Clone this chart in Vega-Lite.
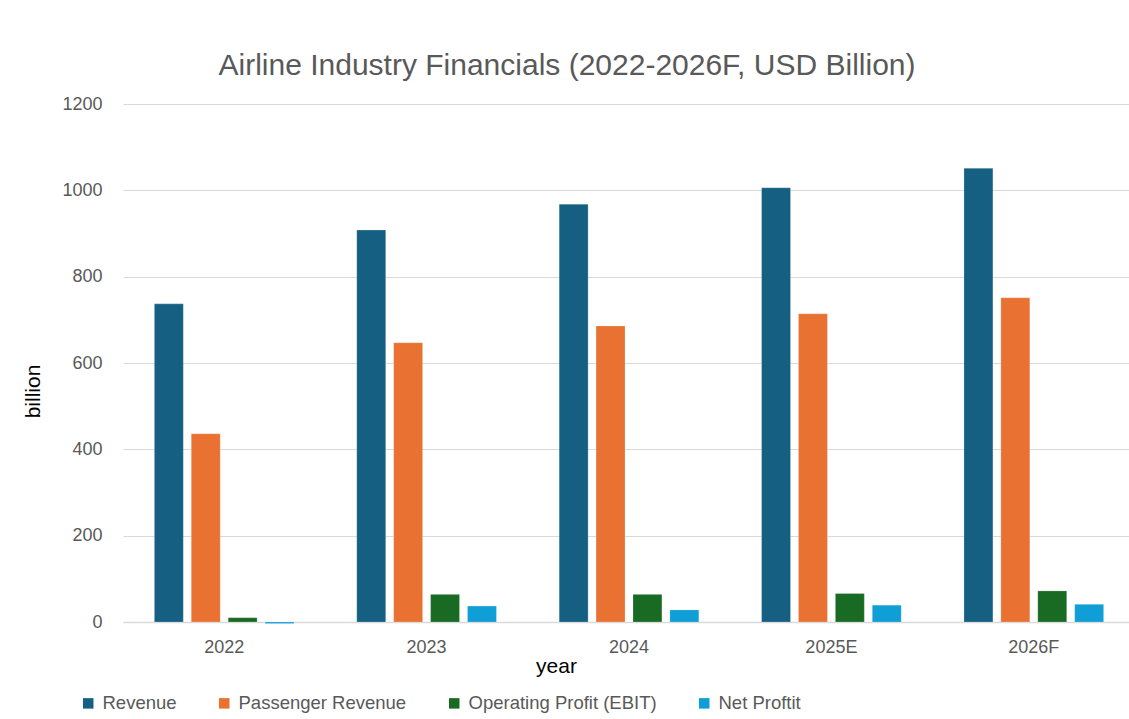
{
  "$schema": "https://vega.github.io/schema/vega-lite/v6.json",
  "autosize": "none",
  "width": 1006,
  "height": 518,
  "padding": {"left": 123, "top": 104, "right": 0, "bottom": 97},
  "background": "white",
  "title": {
    "text": "Airline Industry Financials (2022-2026F, USD Billion)",
    "font": "Liberation Sans",
    "fontSize": 30,
    "fontWeight": "normal",
    "color": "#595959",
    "anchor": "middle",
    "frame": "group",
    "dx": -59,
    "offset": 14
  },
  "data": {
    "values": [
      {"year": "2022", "series": "Revenue", "value": 737},
      {"year": "2022", "series": "Passenger Revenue", "value": 436},
      {"year": "2022", "series": "Operating Profit (EBIT)", "value": 10},
      {"year": "2022", "series": "Net Proftit", "value": -3.6},
      {"year": "2023", "series": "Revenue", "value": 908},
      {"year": "2023", "series": "Passenger Revenue", "value": 647},
      {"year": "2023", "series": "Operating Profit (EBIT)", "value": 64},
      {"year": "2023", "series": "Net Proftit", "value": 37},
      {"year": "2024", "series": "Revenue", "value": 968},
      {"year": "2024", "series": "Passenger Revenue", "value": 686},
      {"year": "2024", "series": "Operating Profit (EBIT)", "value": 64},
      {"year": "2024", "series": "Net Proftit", "value": 28},
      {"year": "2025E", "series": "Revenue", "value": 1006},
      {"year": "2025E", "series": "Passenger Revenue", "value": 714},
      {"year": "2025E", "series": "Operating Profit (EBIT)", "value": 66},
      {"year": "2025E", "series": "Net Proftit", "value": 39},
      {"year": "2026F", "series": "Revenue", "value": 1051},
      {"year": "2026F", "series": "Passenger Revenue", "value": 751},
      {"year": "2026F", "series": "Operating Profit (EBIT)", "value": 72},
      {"year": "2026F", "series": "Net Proftit", "value": 41}
    ]
  },
  "mark": {"type": "bar", "stroke": "#ffffff", "strokeOpacity": 0.35, "strokeWidth": 0.6},
  "encoding": {
    "x": {
      "field": "year",
      "type": "nominal",
      "sort": ["2022", "2023", "2024", "2025E", "2026F"],
      "scale": {"range": [0, 1012], "paddingInner": 0.31, "paddingOuter": 0.155},
      "axis": {
        "title": "year",
        "titleFont": "Liberation Sans",
        "titleFontSize": 21,
        "titleFontWeight": "normal",
        "titleColor": "#000000",
        "titleX": 433,
        "titleY": 33,
        "labelAngle": 0,
        "labelFont": "Liberation Sans",
        "labelFontSize": 18,
        "labelColor": "#595959",
        "labelPadding": 16,
        "ticks": false,
        "domainColor": "#d9d9d9",
        "domainWidth": 1.5,
        "grid": false
      }
    },
    "xOffset": {
      "field": "series",
      "type": "nominal",
      "sort": ["Revenue", "Passenger Revenue", "Operating Profit (EBIT)", "Net Proftit"],
      "scale": {"paddingInner": 0.216, "paddingOuter": 0}
    },
    "y": {
      "field": "value",
      "type": "quantitative",
      "scale": {"domain": [0, 1200], "nice": false, "zero": true},
      "axis": {
        "values": [0, 200, 400, 600, 800, 1000, 1200],
        "format": "d",
        "title": "billion",
        "titleFont": "Liberation Sans",
        "titleFontSize": 21,
        "titleFontWeight": "normal",
        "titleColor": "#000000",
        "titleX": -80,
        "titleY": 287,
        "labelFont": "Liberation Sans",
        "labelFontSize": 18,
        "labelColor": "#595959",
        "labelPadding": 21,
        "ticks": false,
        "domain": false,
        "grid": true,
        "gridColor": "#d9d9d9",
        "gridWidth": 1.2
      }
    },
    "color": {
      "field": "series",
      "type": "nominal",
      "sort": ["Revenue", "Passenger Revenue", "Operating Profit (EBIT)", "Net Proftit"],
      "scale": {
        "domain": ["Revenue", "Passenger Revenue", "Operating Profit (EBIT)", "Net Proftit"],
        "range": ["#156082", "#E97132", "#196B24", "#0F9ED5"]
      },
      "legend": {
        "title": null,
        "orient": "none",
        "direction": "horizontal",
        "legendX": -44,
        "legendY": 590,
        "symbolType": "square",
        "symbolSize": 110,
        "symbolStrokeWidth": 0,
        "labelFont": "Liberation Sans",
        "labelFontSize": 18.5,
        "labelColor": "#595959",
        "labelOffset": 5,
        "labelLimit": 0,
        "columnPadding": 38
      }
    }
  },
  "config": {
    "view": {"stroke": null},
    "font": "Liberation Sans"
  }
}
